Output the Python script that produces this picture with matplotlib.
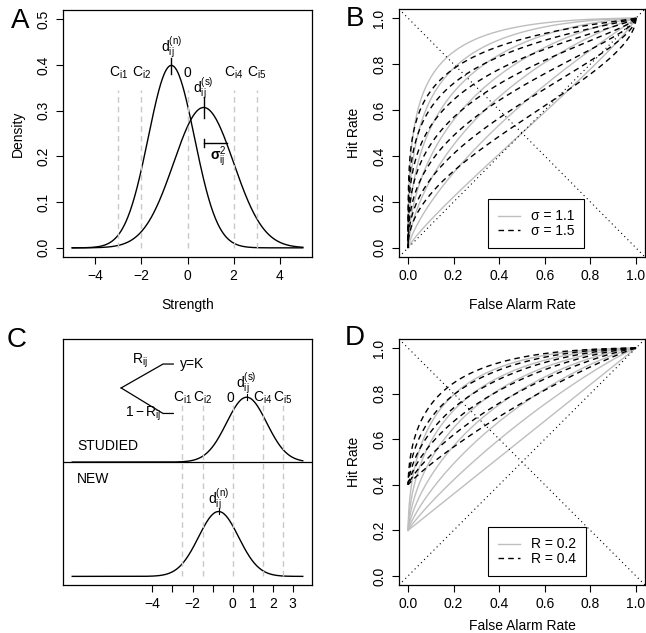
import math
import numpy as np
import matplotlib
matplotlib.use("Agg")
import matplotlib.pyplot as plt

plt.rcParams['font.family'] = ['Liberation Sans', 'DejaVu Sans']
plt.rcParams['mathtext.fontset'] = 'custom'
plt.rcParams['mathtext.rm'] = 'Liberation Sans'
plt.rcParams['mathtext.it'] = 'Liberation Sans'
plt.rcParams['mathtext.bf'] = 'Liberation Sans:bold'
plt.rcParams['mathtext.default'] = 'regular'

# ---------------- data ----------------
# Panel A
a_new_mean = -0.7
a_new_sd = 1.0
a_stud_mean = 0.7
a_stud_sd = 1.3
a_criteria = [-3, -2, 0, 2, 3]
a_crit_labels = [r'$C_{i1}$', r'$C_{i2}$', '0', r'$C_{i4}$', r'$C_{i5}$']
a_strength_range = [-5, 5]
a_xticks = [-4, -2, 0, 2, 4]
a_yticks = [0.0, 0.1, 0.2, 0.3, 0.4, 0.5]

# Panel B (unequal-variance ROCs)
b_sigmas = [1.1, 1.5]
b_dprimes_s11 = [0.0, 0.35, 0.7, 1.0, 1.35, 1.7, 2.0]
b_dprimes_s15 = [0.2, 0.5, 0.8, 1.1, 1.4, 1.7, 2.0]
b_labels = ['σ = 1.1', 'σ = 1.5']

# Panel C
c_new_mean = -0.7
c_stud_mean = 0.7
c_sd = 1.0
c_criteria = [-2.5, -1.5, 0, 1.5, 2.5]
c_crit_labels = [r'$C_{i1}$', r'$C_{i2}$', '0', r'$C_{i4}$', r'$C_{i5}$']
c_strength_range = [-8, 3.5]
c_xticks = [-4, -3, -2, -1, 0, 1, 2, 3]
c_xticklabels = ['\u22124', '', '\u22122', '', '0', '1', '2', '3']

# Panel D (dual-process ROCs)
d_recoll = [0.2, 0.4]
d_dprimes_r02 = [0.0, 0.25, 0.5, 0.75, 1.0, 1.25, 1.5]
d_dprimes_r04 = [0.25, 0.5, 0.75, 1.0, 1.25, 1.5]
d_labels = ['R = 0.2', 'R = 0.4']

roc_ticks = [0.0, 0.2, 0.4, 0.6, 0.8, 1.0]

# ---------------- helpers ----------------
_erf = np.frompyfunc(math.erf, 1, 1)


def pnorm(x):
    return 0.5 * (1.0 + _erf(np.asarray(x) / math.sqrt(2.0)).astype(float))


def dnorm(x, m, s):
    return np.exp(-0.5 * ((x - m) / s) ** 2) / (s * math.sqrt(2 * math.pi))


GRAY = '#bebebe'
CRIT = '#c8c8c8'
FS = 10
TICKLEN = 5

W, H = 646, 633
fig = plt.figure(figsize=(W / 100, H / 100), dpi=100)


def rect(l, t, r, b):
    return [l / W, 1 - b / H, (r - l) / W, (b - t) / H]


def style(ax):
    for s in ax.spines.values():
        s.set_linewidth(0.9)
    ax.tick_params(direction='out', length=TICKLEN, width=0.8, labelsize=FS)
    ax.tick_params(axis='x', pad=4)
    ax.tick_params(axis='y', pad=4)
    for lab in ax.get_yticklabels():
        lab.set_rotation(90)
        lab.set_va('center')


def add_legend(ax):
    leg = ax.legend(loc='lower left', bbox_to_anchor=(0.362, 0.036), borderaxespad=0,
                    fontsize=FS, frameon=True, fancybox=False, edgecolor='black',
                    framealpha=1, handlelength=1.55, borderpad=0.72, labelspacing=0.05,
                    handletextpad=0.8)
    leg.get_frame().set_linewidth(0.8)
    return leg


def roc_axes(ax):
    ax.axline((0, 0), slope=1, color='black', lw=0.8, ls=(0, (1, 3)))
    ax.axline((0, 1), slope=-1, color='black', lw=0.8, ls=(0, (1, 3)))
    ax.set_xlim(-0.04, 1.04)
    ax.set_ylim(-0.04, 1.04)
    ax.set_xticks(roc_ticks)
    ax.set_yticks(roc_ticks)
    ax.set_xticklabels([f'{t:.1f}' for t in roc_ticks])
    ax.set_yticklabels([f'{t:.1f}' for t in roc_ticks])
    style(ax)
    ax.set_xlabel('False Alarm Rate', fontsize=FS)
    ax.set_ylabel('Hit Rate', fontsize=FS)
    ax.yaxis.set_label_coords(-0.154, 0.5)


# ---------------- Panel A ----------------
axA = fig.add_axes(rect(63, 10, 312, 257))
xs = np.linspace(a_strength_range[0], a_strength_range[1], 400)
axA.plot(xs, dnorm(xs, a_new_mean, a_new_sd), color='black', lw=1.0)
axA.plot(xs, dnorm(xs, a_stud_mean, a_stud_sd), color='black', lw=1.0)
for c, lab in zip(a_criteria, a_crit_labels):
    axA.plot([c, c], [0, 0.345], color=CRIT, lw=1.0, ls=(0, (4, 3)))
    axA.text(c, 0.383, lab, ha='center', va='center', fontsize=FS)
pk_n = dnorm(a_new_mean, a_new_mean, a_new_sd)
pk_s = dnorm(a_stud_mean, a_stud_mean, a_stud_sd)
axA.plot([a_new_mean, a_new_mean], [pk_n - 0.019, pk_n + 0.016], color='black', lw=1.0)
axA.plot([a_stud_mean, a_stud_mean], [pk_s - 0.024, pk_s + 0.024], color='black', lw=1.0)
axA.text(a_new_mean, 0.438, r'$d_{ij}^{(n)}$', ha='center', va='center', fontsize=FS)
axA.text(a_stud_mean, 0.35, r'$d_{ij}^{(s)}$', ha='center', va='center', fontsize=FS)
axA.plot([a_stud_mean, a_stud_mean + 1.0], [0.23, 0.23], color='black', lw=1.0)
axA.plot([a_stud_mean, a_stud_mean], [0.221, 0.239], color='black', lw=1.0)
axA.text(a_stud_mean + 0.65, 0.2, r'$\mathbf{\sigma}_{ij}^{2}$', ha='center', va='center', fontsize=FS)
axA.set_xlim(-5.4, 5.4)
axA.set_ylim(-0.02, 0.52)
axA.set_xticks(a_xticks)
axA.set_yticks(a_yticks)
axA.set_xticklabels([f'{t:g}'.replace('-', '\u2212') for t in a_xticks])
axA.set_yticklabels([f'{t:.1f}' for t in a_yticks])
style(axA)
axA.set_xlabel('Strength', fontsize=FS)
axA.set_ylabel('Density', fontsize=FS)
axA.xaxis.set_label_coords(0.5, -0.166)
axA.yaxis.set_label_coords(-0.153, 0.5)

# ---------------- Panel B ----------------
axB = fig.add_axes(rect(399, 9, 645, 257))
crit = np.linspace(-7, 7, 600)
fa = 1 - pnorm(crit)
for sig, dset, lab in zip(b_sigmas, [b_dprimes_s11, b_dprimes_s15], b_labels):
    for i, d in enumerate(dset):
        hr = 1 - pnorm((crit - d) / sig)
        if sig == b_sigmas[0]:
            ln, = axB.plot(fa, hr, color=GRAY, lw=1.0)
        else:
            ln, = axB.plot(fa, hr, color='black', lw=1.0, ls=(0, (4, 3)))
        if i == 0:
            ln.set_label(lab)
roc_axes(axB)
axB.xaxis.set_label_coords(0.5, -0.166)
add_legend(axB)

# ---------------- Panel C ----------------
axC = fig.add_axes(rect(63, 339, 312, 585))
off = 0.703
xs = np.linspace(c_strength_range[0], c_strength_range[1], 400)
axC.plot(xs, off + dnorm(xs, c_stud_mean, c_sd), color='black', lw=1.0)
axC.plot(xs, dnorm(xs, c_new_mean, c_sd), color='black', lw=1.0)
axC.axhline(off, color='black', lw=0.9)
for c, lab in zip(c_criteria, c_crit_labels):
    axC.plot([c, c], [0, 1.06], color=CRIT, lw=1.0, ls=(0, (4, 3)))
    axC.text(c - (0.1 if lab == '0' else 0), 1.10, lab, ha='center', va='center', fontsize=FS)
pk = dnorm(0, 0, c_sd)
axC.plot([c_stud_mean] * 2, [off + pk - 0.018, off + pk + 0.018], color='black', lw=0.8)
axC.plot([c_new_mean] * 2, [pk - 0.018, pk + 0.018], color='black', lw=0.8)
axC.text(c_stud_mean, 1.19, r'$d_{ij}^{(s)}$', ha='center', va='center', fontsize=FS)
axC.text(c_new_mean, 0.478, r'$d_{ij}^{(n)}$', ha='center', va='center', fontsize=FS)
axC.text(-7.75, 0.80, 'STUDIED', ha='left', va='center', fontsize=FS)
axC.text(-7.75, 0.597, 'NEW', ha='left', va='center', fontsize=FS)
# recollection tree
axC.plot([-5.56, -3.47, -2.96], [1.159, 1.306, 1.306], color='black', lw=0.9)
axC.plot([-5.56, -3.47, -2.96], [1.159, 1.002, 1.002], color='black', lw=0.9)
axC.text(-4.6, 1.325, r'$R_{ij}$', ha='center', va='center', fontsize=FS)
axC.text(-2.63, 1.306, 'y=K', ha='left', va='center', fontsize=FS)
axC.text(-3.55, 1.0, r'$1 - R_{ij}$', ha='right', va='center', fontsize=FS)
axC.set_xlim(-8.46, 3.96)
axC.set_ylim(-0.053, 1.46)
axC.set_xticks(c_xticks)
axC.set_xticklabels(c_xticklabels)
axC.set_yticks([])
style(axC)

# ---------------- Panel D ----------------
axD = fig.add_axes(rect(399, 339, 645, 585))
for R, dset, lab in zip(d_recoll, [d_dprimes_r02, d_dprimes_r04], d_labels):
    for i, d in enumerate(dset):
        hr = R + (1 - R) * (1 - pnorm(crit - d))
        if R == d_recoll[0]:
            ln, = axD.plot(fa, hr, color=GRAY, lw=1.0)
        else:
            ln, = axD.plot(fa, hr, color='black', lw=1.0, ls=(0, (4, 3)))
        if i == 0:
            ln.set_label(lab)
roc_axes(axD)
axD.xaxis.set_label_coords(0.5, -0.14)
add_legend(axD)

# panel letters
for lab, x, y in [('A', 20, 21), ('B', 355, 19), ('C', 17, 340), ('D', 355, 338)]:
    fig.text(x / W, 1 - y / H, lab, fontsize=20, ha='center', va='center')

fig.savefig('out.png', dpi=100)
